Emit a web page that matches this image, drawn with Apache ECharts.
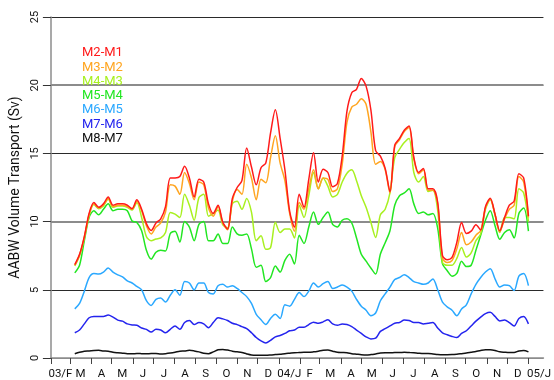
<!DOCTYPE html>
<html>
<head>
<meta charset="utf-8">
<script src="https://cdn.jsdelivr.net/npm/echarts@6/dist/echarts.min.js"></script>
<style>
  html, body { margin: 0; padding: 0; background: #fff; }
  #chart { width: 554px; height: 380px; }
</style>
</head>
<body>
<div id="chart"></div>
<script>
// Sample dates: days since 1 Feb 2003, one sample per week
const days = [35,42,49,56,63,70,77,84,91,98,105,112,119,126,133,140,147,154,161,168,
  175,182,189,196,203,210,217,224,231,238,245,252,259,266,273,280,287,294,301,308,
  315,322,329,336,343,350,357,364,371,378,385,392,399,406,413,420,427,434,441,448,
  455,462,469,476,483,490,497,504,511,518,525,532,539,546,553,560,567,574,581,588,
  595,602,609,616,623,630,637,644,651,658,665,672,679,686,693,700];

// AABW volume transport between moorings (Sv)
const m2m1 = [6.84,7.6,8.9,10.6,11.4,11.05,11.3,11.8,11.2,11.3,
  11.3,11.2,10.95,11.6,10.9,9.85,9.35,9.9,10.2,11.1,
  13.2,13.2,13.3,14.05,13.2,11.8,13.1,12.9,11.3,10.6,
  11.2,9.95,9.45,11.7,12.5,13.0,15.4,14.0,12.7,13.95,
  14.3,16.5,18.2,16.1,13.8,10.75,9.6,12.0,11.05,13.1,
  15.05,12.9,13.84,13.6,12.55,12.8,14.8,18.1,19.45,19.7,
  20.5,19.93,18.2,15.2,14.8,13.9,12.2,15.6,16.1,16.7,
  17.0,14.7,13.6,13.9,12.4,12.4,11.4,7.5,7.2,7.38,
  8.48,9.94,9.13,9.3,9.76,9.38,11.1,11.72,10.55,9.33,
  10.3,11.2,11.5,13.5,13.2,10.4];
const m3m2 = [6.8,7.55,8.85,10.5,11.3,11.0,11.2,11.7,11.1,11.2,
  11.2,11.1,10.9,11.5,10.8,9.7,9.1,9.6,9.9,10.7,
  12.7,12.6,12.0,13.6,12.8,11.6,12.9,12.7,11.0,10.4,
  11.1,9.9,9.4,11.5,12.35,12.0,14.2,13.2,11.6,13.1,
  12.85,14.7,16.3,14.3,13.0,10.6,9.3,11.4,10.9,12.4,
  13.8,12.4,13.2,13.1,12.2,12.4,14.2,17.3,18.4,18.6,
  19.0,18.6,16.6,14.2,14.4,13.8,12.1,15.5,16.0,16.6,
  16.9,14.6,13.5,13.8,12.3,12.3,11.3,7.3,7.0,7.15,
  8.0,9.2,8.3,8.5,9.0,9.35,11.0,11.65,10.5,9.25,
  10.2,10.9,11.2,13.3,12.9,10.3];
const m4m3 = [6.75,7.5,8.8,10.45,11.25,10.95,11.15,11.65,11.05,11.15,
  11.15,11.05,10.85,11.4,10.3,8.9,8.6,8.72,8.8,9.2,
  10.67,10.55,10.3,12.0,11.2,10.1,11.77,12.0,10.4,10.6,
  10.85,9.75,9.55,11.3,11.5,10.9,11.7,10.7,8.6,8.96,
  7.97,8.1,9.96,9.2,9.45,9.45,8.8,11.2,10.3,11.9,
  13.6,12.4,13.2,12.6,11.8,12.0,12.9,13.55,13.8,13.0,
  11.9,11.05,9.95,8.84,10.5,10.9,12.1,14.7,15.3,15.8,
  16.1,13.6,12.9,13.3,12.2,12.3,10.8,7.0,6.8,6.8,
  7.3,8.1,7.4,7.7,8.6,9.1,10.9,11.6,10.5,9.2,
  10.3,10.3,10.2,12.4,12.1,10.0];
const m5m4 = [6.24,6.8,8.6,10.3,10.8,10.5,10.9,11.3,10.8,10.9,
  10.9,10.8,10.05,9.94,9.33,7.9,7.25,7.75,7.9,7.85,
  9.13,9.3,8.5,10.0,9.6,8.6,9.8,10.0,8.6,8.6,
  9.1,8.4,8.4,9.6,9.1,9.0,9.1,8.0,6.65,6.8,
  5.6,5.9,6.75,6.3,7.15,7.6,6.9,9.0,8.4,9.6,
  10.7,9.8,10.3,10.7,9.8,9.6,10.1,10.2,9.9,8.8,
  7.6,7.1,6.6,6.15,7.62,8.45,9.33,11.2,11.9,12.1,
  12.4,11.3,10.6,10.7,10.5,10.6,9.5,6.9,6.4,6.0,
  6.2,7.1,6.7,6.8,7.9,9.0,10.1,10.8,9.7,8.7,
  9.2,9.4,8.8,10.6,11.0,9.3];
const m6m5 = [3.6,4.0,4.9,5.9,6.2,6.15,6.3,6.6,6.3,6.1,
  5.95,5.65,5.5,5.25,5.0,4.2,3.85,4.3,4.4,4.1,
  4.6,5.0,4.6,5.6,5.5,5.0,5.5,5.5,4.8,4.7,
  5.3,5.4,5.2,5.3,5.1,4.8,4.5,4.0,3.2,2.8,
  2.45,2.9,3.2,2.9,3.9,3.8,4.3,4.8,4.5,4.9,
  5.5,5.2,5.45,5.6,5.1,5.2,5.35,5.2,4.9,4.3,
  3.8,3.5,3.1,3.3,4.2,4.7,5.2,5.75,5.9,6.1,
  5.9,5.6,5.5,5.4,5.5,5.8,5.0,4.1,3.75,3.5,
  3.1,3.6,3.9,4.7,5.4,5.9,6.3,6.55,5.8,5.2,
  5.35,5.3,4.95,6.0,6.2,5.3];
const m7m6 = [1.85,2.05,2.5,2.95,3.05,3.05,3.05,3.15,3.0,2.78,
  2.7,2.5,2.42,2.4,2.2,2.1,1.9,2.1,2.05,1.85,
  2.1,2.35,2.1,2.6,2.75,2.45,2.6,2.5,2.22,2.6,
  2.95,2.87,2.75,2.55,2.45,2.3,2.15,1.85,1.5,1.25,
  1.1,1.3,1.55,1.65,1.8,2.0,2.05,2.25,2.25,2.45,
  2.63,2.55,2.65,2.8,2.5,2.4,2.5,2.45,2.3,2.05,
  1.8,1.55,1.4,1.45,1.95,2.15,2.35,2.55,2.6,2.78,
  2.75,2.6,2.6,2.5,2.55,2.6,2.2,1.85,1.7,1.58,
  1.5,1.8,2.0,2.35,2.7,3.0,3.25,3.35,3.05,2.72,
  2.78,2.6,2.35,2.9,3.05,2.5];
const m8m7 = [0.31,0.42,0.5,0.52,0.55,0.56,0.52,0.5,0.42,0.38,
  0.35,0.32,0.31,0.33,0.32,0.31,0.33,0.33,0.3,0.32,
  0.36,0.42,0.5,0.52,0.56,0.52,0.45,0.35,0.32,0.45,
  0.6,0.63,0.58,0.5,0.45,0.4,0.3,0.22,0.2,0.2,
  0.2,0.22,0.25,0.28,0.32,0.35,0.38,0.4,0.42,0.42,
  0.45,0.5,0.56,0.58,0.5,0.42,0.4,0.38,0.32,0.28,
  0.24,0.22,0.25,0.3,0.36,0.38,0.38,0.4,0.4,0.42,
  0.4,0.38,0.35,0.33,0.33,0.3,0.26,0.24,0.24,0.25,
  0.28,0.32,0.36,0.42,0.48,0.55,0.6,0.6,0.55,0.45,
  0.42,0.4,0.4,0.52,0.55,0.45];

const seriesNames = ['M2-M1', 'M3-M2', 'M4-M3', 'M5-M4', 'M6-M5', 'M7-M6', 'M8-M7'];
const seriesValues = [m2m1, m3m2, m4m3, m5m4, m6m5, m7m6, m8m7];
const seriesColors = ['#ff1a1a', '#ffa520', '#a8f020', '#22e622', '#2aa8ff', '#2424ee', '#111111'];

// Month boundaries (tick marks) and month centres (labels), days since 1 Feb 2003
const monthStarts = [0,28,59,89,120,150,181,212,242,273,303,334,365,394,425,455,486,516,547,578,608,639,669,700];
const monthMids = [14,43.5,74,104.5,135,165.5,196.5,227,257.5,288,318.5,349.5,379.5,409.5,440,470.5,501,531.5,562.5,593,623.5,654,684.5,715.5];
const monthLabels = ['03/F','M','A','M','J','J','A','S','O','N','D','04/J','F','M','A','M','J','J','A','S','O','N','D','05/J'];

const FONT = 'Roboto';

const chart = echarts.init(document.getElementById('chart'), null, { renderer: 'canvas' });

const labelByDay = {};
monthMids.forEach((d, i) => { labelByDay[d] = monthLabels[i]; });

// draw order: lowest layer first so M2-M1 sits on top
const series = [];
for (let s = seriesNames.length - 1; s >= 0; s--) {
  const vals = seriesValues[s];
  series.push({
    name: seriesNames[s],
    type: 'line',
    data: days.map((d, i) => [d, vals[i]]),
    showSymbol: false,
    smooth: 0.3,
    lineStyle: { color: seriesColors[s], width: 1.5 },
    itemStyle: { color: seriesColors[s] },
    z: 3
  });
}
// heavier grey guide lines at 10 and 20 Sv
series.push({
  type: 'line',
  data: [],
  silent: true,
  markLine: {
    silent: true,
    symbol: 'none',
    label: { show: false },
    z: 1,
    lineStyle: { color: '#8c8c8c', width: 2, type: 'solid' },
    data: [{ yAxis: 10 }, { yAxis: 20 }]
  }
});

chart.setOption({
  animation: false,
  backgroundColor: '#ffffff',
  grid: { left: 48, right: 0, top: 17, bottom: 21, containLabel: false },
  legend: {
    orient: 'vertical',
    left: 72,
    top: 41,
    itemWidth: 0,
    itemHeight: 14,
    itemGap: 0.3,
    icon: 'rect',
    selectedMode: false,
    textStyle: { fontSize: 13, fontFamily: FONT },
    data: seriesNames.map((n, i) => ({ name: n, textStyle: { color: seriesColors[i] } }))
  },
  xAxis: {
    type: 'value',
    min: 0,
    max: 722,
    axisLine: { show: true, lineStyle: { color: '#8c8c8c', width: 1.5 } },
    axisTick: { show: true, length: 6, customValues: monthStarts, lineStyle: { color: '#444', width: 1 } },
    axisLabel: {
      show: true,
      customValues: monthMids,
      margin: 10,
      fontSize: 11.5,
      fontFamily: FONT,
      color: '#111',
      formatter: v => labelByDay[v] || ''
    },
    splitLine: { show: false }
  },
  yAxis: {
    type: 'value',
    min: 0,
    max: 25,
    interval: 5,
    name: 'AABW Volume Transport (Sv)',
    nameLocation: 'middle',
    nameGap: 20,
    nameRotate: 90,
    nameTextStyle: { fontSize: 14, fontFamily: FONT, color: '#111' },
    axisLine: { show: true, lineStyle: { color: '#8c8c8c', width: 1.5 } },
    axisTick: { show: true, length: 8, lineStyle: { color: '#333', width: 1 } },
    axisLabel: { rotate: 90, margin: 10, fontSize: 11, fontFamily: FONT, color: '#111' },
    splitLine: { show: true, lineStyle: { color: ['#8c8c8c', '#2a2a2a'], width: 1 } }
  },
  series: series
});
</script>
</body>
</html>
